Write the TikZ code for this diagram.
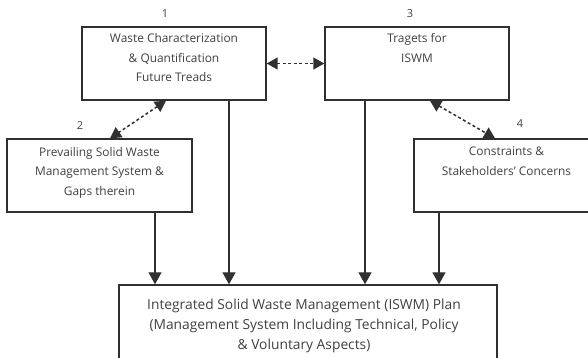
\documentclass[tikz,border=0pt]{standalone}
\usepackage{fontspec}
\setmainfont{Open Sans}
\usetikzlibrary{arrows.meta,calc}
\definecolor{ink}{HTML}{303030}
\definecolor{txt}{HTML}{404040}
\begin{document}
\begin{tikzpicture}[x=1pt,y=-1pt,
  box/.style={draw=ink,line width=1.4pt,inner sep=0pt},
  boxtext/.style={anchor=north,inner sep=0pt,align=center,text=txt,
    font=\fontsize{11.9}{19.6}\selectfont},
  plantext/.style={boxtext,font=\fontsize{13.8}{20}\selectfont},
  numlabel/.style={text=txt,inner sep=0pt,font=\fontsize{11}{12}\selectfont},
  flow/.style={draw=ink,line width=1.3pt,-{Triangle[length=12pt,width=13pt]}},
  link/.style={draw=ink,line width=1.5pt,dash pattern=on 3pt off 2.5pt,
    {Triangle[length=11pt,width=12pt]}-{Triangle[length=11pt,width=12pt]}}]
\useasboundingbox (0,0) rectangle (588,357);
\clip (0,0) rectangle (588,357);

% boxes
\node[box,minimum width=184pt,minimum height=73pt] (b1) at (174,63.5) {};
\node[box,minimum width=184pt,minimum height=73pt] (b3) at (417,63.5) {};
\node[box,minimum width=185pt,minimum height=73pt] (b2) at (99.5,175.5) {};
\node[box,minimum width=185pt,minimum height=73pt] (b4) at (506.5,175.5) {};
\node[box,minimum width=378pt,minimum height=90pt] (plan) at (308,330) {};

% box texts
\node[boxtext] (t1) at ([yshift=-7pt]b1.north) {Waste Characterization\\\& Quantification\\Future Treads};
\node[boxtext] (t3) at ([yshift=-7pt]b3.north) {Tragets for\\ISWM};
\node[boxtext] (t2) at ([yshift=-8.5pt]b2.north) {Prevailing Solid Waste\\Management System \&\\Gaps therein};
\node[boxtext] (t4) at ([yshift=-8.5pt]b4.north) {Constraints \&\\Stakeholders' Concerns};
\node[plantext] (tp) at ([xshift=-4pt,yshift=-14.5pt]plan.north) {Integrated Solid Waste Management (ISWM) Plan\\(Management System Including Technical, Policy\\\& Voluntary Aspects)};

% numbers
\node[numlabel] (n1) at (165,14) {1};
\node[numlabel] (n3) at (410,14) {3};
\node[numlabel] (n2) at (80,126) {2};
\node[numlabel] (n4) at (520,124) {4};

% solid flows into the plan
\draw[flow] ([xshift=55.5pt]b2.south) -- ([xshift=55.5pt]b2.south |- plan.north);
\draw[flow] ([xshift=55pt]b1.south) -- ([xshift=55pt]b1.south |- plan.north);
\draw[flow] ([xshift=-52pt]b3.south) -- ([xshift=-52pt]b3.south |- plan.north);
\draw[flow] ([xshift=-67.5pt]b4.south) -- ([xshift=-67.5pt]b4.south |- plan.north);

% dashed two-way links
\draw[link] (b1.east) -- (b3.west);
\draw[link] ([xshift=-8pt]b1.south) -- ([xshift=10.5pt]b2.north);
\draw[link] ([xshift=13pt]b3.south) -- ([xshift=-11.5pt]b4.north);
\end{tikzpicture}
\end{document}
